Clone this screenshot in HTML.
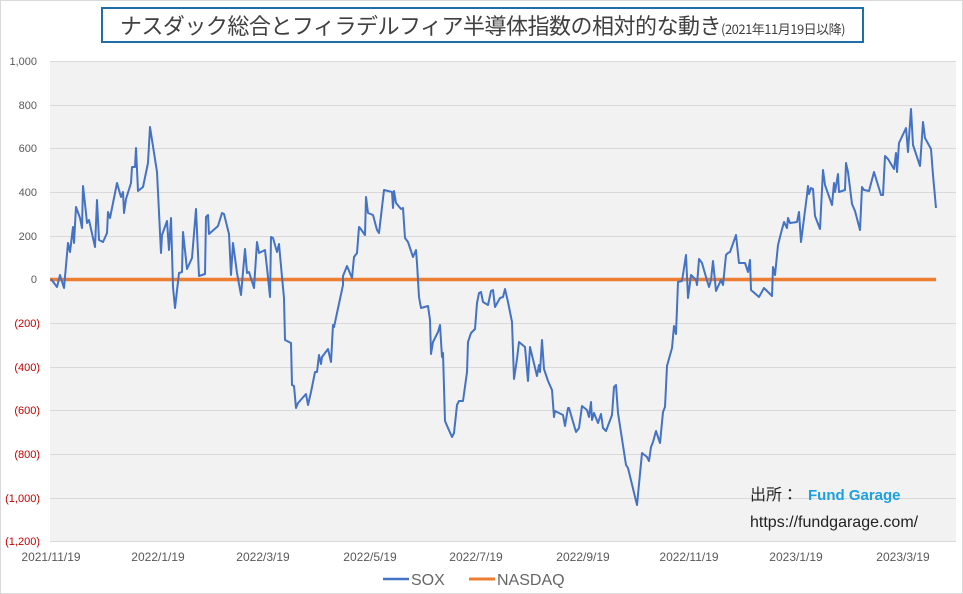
<!DOCTYPE html>
<html><head><meta charset="utf-8"><style>
html,body{margin:0;padding:0;background:#fff;}
body{width:963px;height:594px;position:relative;overflow:hidden;font-family:"Liberation Sans","Noto Sans CJK JP",sans-serif;}
.frame{position:absolute;left:0;top:0;width:961px;height:592px;border:1px solid #d9d9d9;}
.title{position:absolute;left:101px;top:7px;width:759px;height:32px;border:2px solid #1f6ea8;color:#404040;font-size:22px;line-height:32px;white-space:nowrap;text-align:center;font-family:"Noto Sans CJK JP",sans-serif;font-weight:normal;letter-spacing:-0.5px;}
.title small{font-size:13px;}
</style></head><body>
<div class="frame"></div>
<div class="title">ナスダック総合とフィラデルフィア半導体指数の相対的な動き<small>(2021年11月19日以降)</small></div>
<svg width="963" height="594" style="position:absolute;left:0;top:0" font-family="Liberation Sans, sans-serif">
<rect x="50" y="61" width="906" height="481" fill="#f2f2f2"/>
<g stroke="#d9d9d9" stroke-width="1">
<line x1="50" x2="956" y1="61.5" y2="61.5"/><line x1="50" x2="956" y1="105.5" y2="105.5"/><line x1="50" x2="956" y1="148.5" y2="148.5"/><line x1="50" x2="956" y1="192.5" y2="192.5"/><line x1="50" x2="956" y1="236.5" y2="236.5"/><line x1="50" x2="956" y1="323.5" y2="323.5"/><line x1="50" x2="956" y1="367.5" y2="367.5"/><line x1="50" x2="956" y1="410.5" y2="410.5"/><line x1="50" x2="956" y1="454.5" y2="454.5"/><line x1="50" x2="956" y1="498.5" y2="498.5"/><line x1="50" x2="956" y1="541.5" y2="541.5"/>
</g>
<g font-size="11" fill="#595959" text-anchor="end">
<text x="37" y="65">1,000</text><text x="37" y="109">800</text><text x="37" y="152">600</text><text x="37" y="196">400</text><text x="37" y="240">200</text><text x="37" y="283">0</text>
<g fill="#c00000"><text x="40" y="327">(200)</text><text x="40" y="371">(400)</text><text x="40" y="414">(600)</text><text x="40" y="458">(800)</text><text x="40" y="502">(1,000)</text><text x="40" y="545">(1,200)</text></g>
</g>
<g font-size="12" fill="#595959" text-anchor="middle">
<text x="51" y="561">2021/11/19</text><text x="158" y="561">2022/1/19</text><text x="263" y="561">2022/3/19</text><text x="370" y="561">2022/5/19</text><text x="476" y="561">2022/7/19</text><text x="583" y="561">2022/9/19</text><text x="689" y="561">2022/11/19</text><text x="796" y="561">2023/1/19</text><text x="903" y="561">2023/3/19</text>
</g>
<line x1="50" x2="936" y1="279.5" y2="279.5" stroke="#ed7d31" stroke-width="3.5"/>
<polyline fill="none" stroke="#4472c4" stroke-width="2" stroke-linejoin="round" points="51,279 57,287 60,275 64,288 68,243 70,252 73,227 74,243 76,207 80,218 82,228 83,186 86,213 87,223 89,220 95,247 97,200 99,240 103,242 107,233 108,212 110,218 117,183 121,197 123,192 124,213 126,199 131,183 132,167 135,167 136,148 138,191 143,187 148,163 150,127 157,172 161,253 162,235 167,221 169,250 171,218 173,287 175,308 179,273 182,272 183,232 187,269 192,258 196,209 199,276 205,274 206,217 208,215 209,234 218,226 222,213 224,214 229,234 231,275 233,243 237,273 241,295 245,249 247,273 249,272 254,288 257,242 259,253 265,250 268,277 270,297 271,237 273,238 277,252 279,244 282,277 284,298 285,340 291,343 292,385 294,386 296,408 298,403 306,394 308,405 311,392 315,372 317,372 319,355 321,364 322,357 328,349 331,362 333,325 334,327 343,285 343,276 347,266 352,278 354,257 357,253 359,227 360,228 365,235 366,197 368,213 373,215 377,230 379,233 384,190 392,192 393,208 394,191 396,203 401,209 403,208 405,238 408,242 413,257 416,250 417,263 419,297 421,308 428,306 430,320 431,354 433,342 438,332 440,325 442,357 443,353 445,421 448,428 452,437 454,433 457,405 459,401 463,401 467,372 468,342 471,333 475,329 477,303 479,293 481,292 483,302 488,305 491,291 493,290 495,307 500,298 503,297 505,289 508,302 512,322 514,379 517,359 519,342 525,347 528,381 530,347 537,376 539,365 540,372 542,340 544,369 548,381 552,390 554,417 555,411 563,415 565,426 568,408 569,408 576,432 579,428 582,406 587,410 589,417 591,402 592,420 594,413 598,423 601,414 603,428 606,431 612,415 614,387 616,385 618,413 626,465 628,468 637,505 642,453 647,457 649,461 651,447 653,442 656,431 660,443 663,412 665,407 667,366 672,348 674,326 676,334 678,282 682,281 686,255 688,298 691,275 693,277 696,280 697,285 699,259 702,263 706,277 709,287 711,280 713,261 716,291 721,280 723,285 726,255 728,253 730,252 736,235 739,263 745,263 748,272 750,260 751,290 759,297 764,288 772,296 773,267 775,275 778,245 781,233 784,222 787,228 788,218 790,223 797,222 799,212 801,242 807,195 808,186 809,194 811,188 813,189 815,216 820,229 823,170 825,185 832,205 834,183 835,192 838,174 839,192 845,190 846,163 848,172 852,204 855,211 860,230 862,187 864,190 869,191 874,172 881,195 883,195 885,156 888,159 894,169 896,153 897,172 899,143 906,128 908,152 911,109 913,145 920,166 923,122 925,138 931,149 933,175 936,208"/>
<text x="750" y="500" font-size="16" fill="#222" font-family="Noto Sans CJK JP, sans-serif">出所：</text>
<text x="808" y="500" font-size="15" font-weight="bold" fill="#1ca0e0">Fund Garage</text>
<text x="750" y="527" font-size="16" fill="#222">https://fundgarage.com/</text>
<line x1="383" x2="409" y1="579" y2="579" stroke="#4472c4" stroke-width="2.5"/>
<text x="411" y="585" font-size="16" fill="#666">SOX</text>
<line x1="469" x2="495" y1="579" y2="579" stroke="#ed7d31" stroke-width="3"/>
<text x="497" y="585" font-size="16" fill="#666">NASDAQ</text>
</svg>
</body></html>
